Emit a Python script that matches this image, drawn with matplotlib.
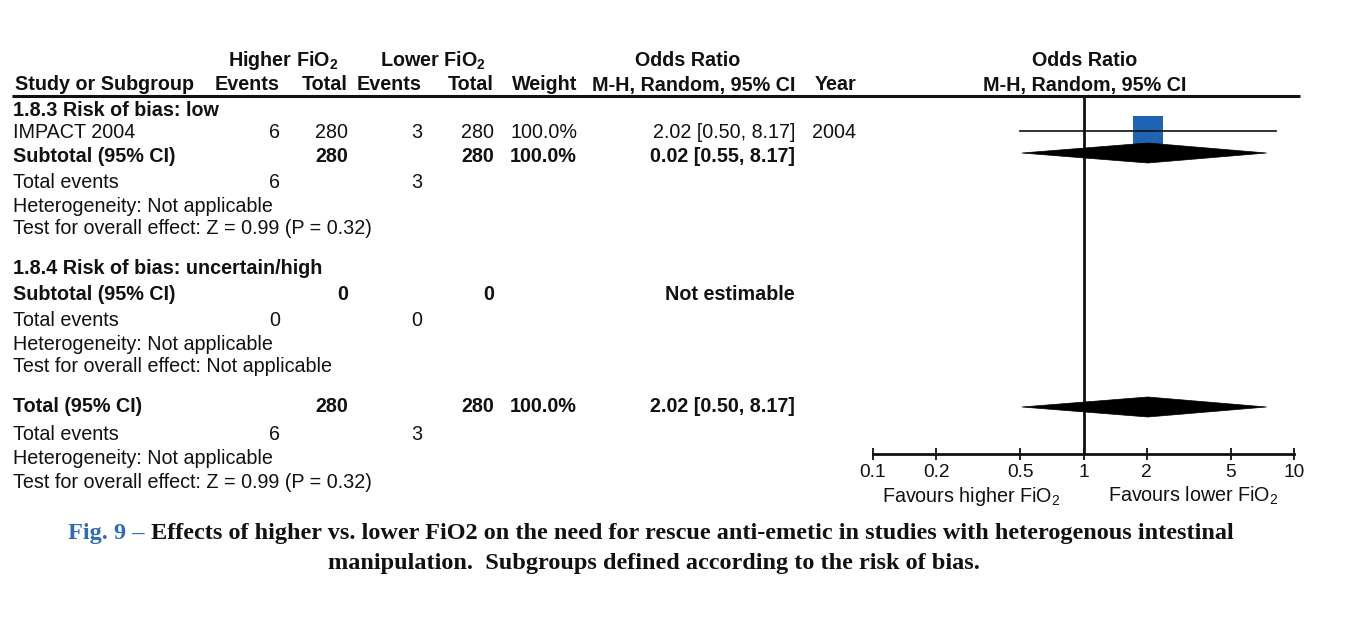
import matplotlib
matplotlib.use("Agg")
import matplotlib.pyplot as plt
from matplotlib.patches import Polygon, Rectangle
import numpy as np

plt.rcParams['font.family'] = ['Liberation Sans', 'DejaVu Sans']
plt.rcParams['mathtext.fontset'] = 'custom'
plt.rcParams['mathtext.rm'] = 'Liberation Sans'
plt.rcParams['mathtext.bf'] = 'Liberation Sans:bold'
plt.rcParams['mathtext.it'] = 'Liberation Sans:italic'

# ---------------- data ----------------
study_names = ["IMPACT 2004"]
study_events_hi = [6]
study_total_hi = [280]
study_events_lo = [3]
study_total_lo = [280]
study_weight = ["100.0%"]
study_or = [2.02]
study_ci_lo = [0.50]
study_ci_hi = [8.17]
study_year = ["2004"]
study_or_text = ["2.02 [0.50, 8.17]"]

# pooled estimates (diamonds): subtotal 1.8.3 and overall total
pooled_or = [2.02, 2.02]
pooled_lo = [0.51, 0.51]
pooled_hi = [7.4, 7.4]

tick_values = [0.1, 0.2, 0.5, 1, 2, 5, 10]
tick_labels = ["0.1", "0.2", "0.5", "1", "2", "5", "10"]

# ---------------- figure ----------------
W, H = 1360, 641
fig = plt.figure(figsize=(W / 100, H / 100), dpi=100)
tax = fig.add_axes([0, 0, 1, 1])
tax.set_xlim(0, W)
tax.set_ylim(H, 0)
tax.axis('off')

FS = 14.2
DY = 2
def t(x, y, s, ha='left', bold=False, size=FS, **kw):
    tax.text(x, y + DY, s, ha=ha, va='center', fontsize=size,
             fontweight='bold' if bold else 'normal', color='#111111', **kw)

# Header
t(283, 59, r"Higher FiO$_{\mathbf{2}}$", ha='center', bold=True)
t(433, 59, r"Lower FiO$_{\mathbf{2}}$", ha='center', bold=True)
t(688, 59, "Odds Ratio", ha='center', bold=True)
t(1085, 59, "Odds Ratio", ha='center', bold=True)
t(15, 83, "Study or Subgroup", bold=True)
t(280, 83, "Events", ha='right', bold=True)
t(348, 83, "Total", ha='right', bold=True)
t(422, 83, "Events", ha='right', bold=True)
t(494, 83, "Total", ha='right', bold=True)
t(577, 83, "Weight", ha='right', bold=True)
t(795, 83, "M-H, Random, 95% CI", ha='right', bold=True)
t(815, 83, "Year", bold=True)
t(1085, 83, "M-H, Random, 95% CI", ha='center', bold=True)
tax.plot([12, 1300], [96, 96], color='#111111', lw=2.2, solid_capstyle='butt')

# Column positions
X_EH, X_TH, X_EL, X_TL, X_W, X_OR, X_Y = 280, 348, 422, 494, 577, 795, 812

# Subgroup 1.8.3
t(13, 108, "1.8.3 Risk of bias: low", bold=True)
y = 131
for i, name in enumerate(study_names):
    t(13, y, name)
    t(X_EH, y, str(study_events_hi[i]), ha='right')
    t(X_TH, y, str(study_total_hi[i]), ha='right')
    t(X_EL, y, str(study_events_lo[i]), ha='right')
    t(X_TL, y, str(study_total_lo[i]), ha='right')
    t(X_W, y, study_weight[i], ha='right')
    t(X_OR, y, study_or_text[i], ha='right')
    t(X_Y, y, study_year[i])
t(13, 154, "Subtotal (95% CI)", bold=True)
t(X_TH, 154, str(sum(study_total_hi)), ha='right', bold=True)
t(X_TL, 154, str(sum(study_total_lo)), ha='right', bold=True)
t(X_W, 154, "100.0%", ha='right', bold=True)
t(X_OR, 154, "0.02 [0.55, 8.17]", ha='right', bold=True)
t(13, 181, "Total events")
t(X_EH, 181, str(sum(study_events_hi)), ha='right')
t(X_EL, 181, str(sum(study_events_lo)), ha='right')
t(13, 204, "Heterogeneity: Not applicable")
t(13, 227, "Test for overall effect: Z = 0.99 (P = 0.32)")

# Subgroup 1.8.4
t(13, 267, "1.8.4 Risk of bias: uncertain/high", bold=True)
t(13, 292, "Subtotal (95% CI)", bold=True)
t(X_TH, 292, "0", ha='right', bold=True)
t(X_TL, 292, "0", ha='right', bold=True)
t(X_OR, 292, "Not estimable", ha='right', bold=True)
t(13, 319, "Total events")
t(X_EH, 319, "0", ha='right')
t(X_EL, 319, "0", ha='right')
t(13, 342, "Heterogeneity: Not applicable")
t(13, 365, "Test for overall effect: Not applicable")

# Total
t(13, 405, "Total (95% CI)", bold=True)
t(X_TH, 405, str(sum(study_total_hi)), ha='right', bold=True)
t(X_TL, 405, str(sum(study_total_lo)), ha='right', bold=True)
t(X_W, 405, "100.0%", ha='right', bold=True)
t(X_OR, 405, "2.02 [0.50, 8.17]", ha='right', bold=True)
t(13, 432, "Total events")
t(X_EH, 432, str(sum(study_events_hi)), ha='right')
t(X_EL, 432, str(sum(study_events_lo)), ha='right')
t(13, 456, "Heterogeneity: Not applicable")
t(13, 480, "Test for overall effect: Z = 0.99 (P = 0.32)")

# ---------------- forest axes ----------------
x0, x1 = 873, 1294
ytop, ybot = 96, 454
fax = fig.add_axes([x0 / W, 1 - ybot / H, (x1 - x0) / W, (ybot - ytop) / H])
fax.patch.set_alpha(0)
fax.set_xscale('log')
fax.set_xlim(0.1, 10)
fax.set_ylim(ybot, ytop)
for s in ['top', 'left', 'right']:
    fax.spines[s].set_visible(False)
fax.spines['bottom'].set_linewidth(2.0)
fax.spines['bottom'].set_color('#111111')
fax.set_yticks([])
fax.set_xticks(tick_values)
fax.set_xticklabels(tick_labels)
fax.xaxis.set_minor_locator(matplotlib.ticker.NullLocator())
fax.tick_params(axis='x', direction='inout', length=9, width=1.3, color='#111111',
                labelsize=13.8, pad=3, labelcolor='#111111')

fax.axvline(1, color='#111111', lw=2.0, zorder=2)

# study rows
row_y = [131]
for i in range(len(study_or)):
    fax.plot([study_ci_lo[i], study_ci_hi[i]], [row_y[i], row_y[i]],
             color='#111111', lw=1.2, zorder=3)
    half = 0.0713  # half width of the weight square in log10 units
    lo_sq = 10 ** (np.log10(study_or[i]) - half)
    hi_sq = 10 ** (np.log10(study_or[i]) + half)
    fax.add_patch(Rectangle((lo_sq, row_y[i] - 15), hi_sq - lo_sq, 28,
                            facecolor='#1f63b5', edgecolor='none', zorder=2))

# diamonds
diamond_y = [153, 407]
for i in range(len(pooled_or)):
    yc = diamond_y[i]
    poly = Polygon([[pooled_lo[i], yc], [pooled_or[i], yc - 10],
                    [pooled_hi[i], yc], [pooled_or[i], yc + 10]],
                   closed=True, facecolor='#000000', edgecolor='#000000', lw=0.5, zorder=4)
    fax.add_patch(poly)

# favours labels
t(971, 494, r"Favours higher FiO$_{\mathrm{2}}$", ha='center')
t(1193, 494, r"Favours lower FiO$_{\mathrm{2}}$", ha='center')

# ---------------- caption ----------------
cap_font = ['Liberation Serif', 'DejaVu Serif']
CFS = 17.5
tax.text(68, 533, "Fig. 9 \u2013", ha='left', va='center', fontsize=CFS, fontweight='bold',
         color='#2e6db4', family=cap_font)
tax.text(151, 533, "Effects of higher vs. lower FiO2 on the need for rescue anti-emetic in studies with heterogenous intestinal",
         ha='left', va='center', fontsize=CFS, fontweight='bold', color='#111111', family=cap_font)
tax.text(654, 563, "manipulation.  Subgroups defined according to the risk of bias.",
         ha='center', va='center', fontsize=CFS, fontweight='bold', color='#111111', family=cap_font)

fig.savefig("out.png", dpi=100)
